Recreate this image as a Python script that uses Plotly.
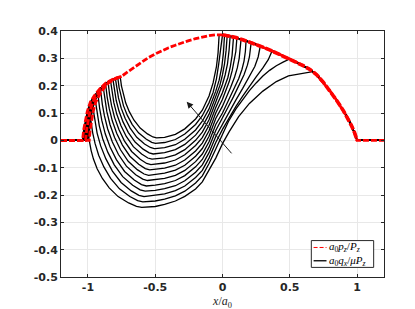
import plotly.graph_objects as go

# ---------------- data ----------------
X_TICKS = [-1, -0.5, 0, 0.5, 1]
X_TICK_TEXT = ["-1", "-0.5", "0", "0.5", "1"]
Y_TICKS = [-0.5, -0.4, -0.3, -0.2, -0.1, 0, 0.1, 0.2, 0.3, 0.4]
Y_TICK_TEXT = ["-0.5", "-0.4", "-0.3", "-0.2", "-0.1", "0", "0.1", "0.2", "0.3", "0.4"]

# normalised pressure a0 pz / Pz (main curve)
RED_X = [-1.2, -1.04, -1.031, -1.0197, -1.005, -0.982, -0.953, -0.9095, -0.866, -0.808,
         -0.75, -0.7, -0.65, -0.6, -0.55, -0.5, -0.45, -0.4, -0.35, -0.3, -0.25, -0.2,
         -0.15, -0.1, -0.05, 0.0, 0.05, 0.1, 0.15, 0.2, 0.25, 0.3, 0.35, 0.4, 0.45, 0.5,
         0.55, 0.6, 0.65, 0.7, 0.75, 0.8, 0.85, 0.9, 0.93, 0.96, 0.98, 0.995, 1.0, 1.2]
RED_Y = [0, 0, 0.04, 0.075, 0.105, 0.14, 0.163, 0.19, 0.21, 0.225,
         0.234, 0.252, 0.27, 0.287, 0.303, 0.316, 0.328, 0.339, 0.348, 0.357, 0.365, 0.372,
         0.378, 0.383, 0.386, 0.386, 0.382, 0.376, 0.368, 0.36, 0.351, 0.341, 0.331, 0.32, 0.309, 0.298,
         0.286, 0.273, 0.259, 0.24, 0.212, 0.18, 0.145, 0.107, 0.082, 0.052, 0.03, 0.01, 0.0, 0.0]
# left edges of the other pressure curves
RED_B_X = [-1.2, -1.017, -1.009, -0.998, -0.985, -0.964, -0.937, -0.897, -0.857, -0.803, -0.75]
RED_B_Y = [0, 0, 0.04, 0.075, 0.105, 0.14, 0.163, 0.19, 0.21, 0.225, 0.234]
RED_C_X = [-1.2, -0.99, -0.9828, -0.9732, -0.9612, -0.942, -0.918, -0.882, -0.846, -0.798, -0.75]
RED_C_Y = [0, 0, 0.04, 0.075, 0.105, 0.14, 0.163, 0.19, 0.21, 0.225, 0.234]

# shear traction a0 qx / (mu Pz), 14 curves (left slip + stick part)
Q0_X = [-1.04, -1.031, -1.0197, -1.005, -0.982, -0.953, -0.9095, -0.866, -0.808, -0.76, -0.7506, -0.7384, -0.7195, -0.6925, -0.6574, -0.6115, -0.5575, -0.517, -0.49, -0.43, -0.35, -0.28, -0.2, -0.15, -0.1, -0.07, -0.045, -0.033, -0.025]
Q0_Y = [0, 0.04, 0.075, 0.105, 0.14, 0.163, 0.19, 0.21, 0.225, 0.232, 0.1986, 0.1696, 0.1372, 0.1049, 0.0737, 0.0447, 0.0235, 0.0123, 0.009, 0.011, 0.022, 0.042, 0.078, 0.11, 0.162, 0.21, 0.27, 0.32, 0.386]
Q1_X = [-1.036, -1.027, -1.016, -1.002, -0.979, -0.95, -0.907, -0.864, -0.807, -0.778, -0.7682, -0.7556, -0.736, -0.708, -0.6716, -0.624, -0.568, -0.526, -0.498, -0.43, -0.35, -0.28, -0.2, -0.15, -0.1, -0.07, -0.045, -0.028, -0.015, -0.005]
Q1_Y = [0, 0.04, 0.075, 0.105, 0.14, 0.163, 0.19, 0.21, 0.225, 0.229, 0.193, 0.1618, 0.127, 0.0922, 0.0586, 0.0274, 0.0046, -0.0074, -0.011, -0.008, 0.003, 0.023, 0.058, 0.09, 0.138, 0.175, 0.225, 0.28, 0.335, 0.386]
Q2_X = [-1.032, -1.0235, -1.0123, -0.998, -0.976, -0.947, -0.905, -0.863, -0.796, -0.7859, -0.7729, -0.7527, -0.7238, -0.6862, -0.637, -0.5793, -0.536, -0.507, -0.5, -0.43, -0.35, -0.28, -0.2, -0.15, -0.1, -0.05, -0.025, -0.005, 0.007, 0.015]
Q2_Y = [0, 0.04, 0.075, 0.105, 0.14, 0.163, 0.19, 0.21, 0.227, 0.1885, 0.155, 0.1178, 0.0805, 0.0445, 0.0111, -0.0133, -0.0261, -0.03, -0.03, -0.027, -0.016, 0.004, 0.038, 0.07, 0.115, 0.18, 0.22, 0.27, 0.32, 0.385]
Q3_X = [-1.028, -1.0197, -1.0085, -0.995, -0.972, -0.945, -0.903, -0.861, -0.814, -0.8035, -0.7901, -0.7691, -0.7392, -0.7004, -0.6495, -0.5897, -0.5449, -0.515, -0.5, -0.43, -0.35, -0.28, -0.2, -0.15, -0.1, -0.05, -0.02, 0.0, 0.015, 0.027, 0.035]
Q3_Y = [0, 0.04, 0.075, 0.105, 0.14, 0.163, 0.19, 0.21, 0.223, 0.182, 0.1466, 0.107, 0.0674, 0.0292, -0.0063, -0.0323, -0.0459, -0.05, -0.049, -0.045, -0.034, -0.015, 0.019, 0.05, 0.095, 0.16, 0.2, 0.24, 0.28, 0.33, 0.384]
Q4_X = [-1.025, -1.017, -1.006, -0.992, -0.97, -0.9425, -0.901, -0.86, -0.832, -0.8212, -0.8074, -0.7858, -0.755, -0.715, -0.6626, -0.601, -0.5548, -0.524, -0.5, -0.43, -0.35, -0.28, -0.2, -0.15, -0.1, -0.05, 0.0, 0.02, 0.037, 0.049, 0.057]
Q4_Y = [0, 0.04, 0.075, 0.105, 0.14, 0.163, 0.19, 0.21, 0.218, 0.175, 0.1376, 0.096, 0.0544, 0.0142, -0.0231, -0.0503, -0.0647, -0.069, -0.068, -0.064, -0.053, -0.034, 0.0, 0.03, 0.075, 0.14, 0.205, 0.24, 0.28, 0.33, 0.382]
Q5_X = [-1.021, -1.013, -1.002, -0.988, -0.967, -0.94, -0.899, -0.85, -0.8389, -0.8246, -0.8023, -0.7705, -0.7292, -0.6751, -0.6115, -0.5638, -0.532, -0.5, -0.43, -0.35, -0.28, -0.2, -0.15, -0.1, -0.05, 0.0, 0.02, 0.04, 0.058, 0.071, 0.082]
Q5_Y = [0, 0.04, 0.075, 0.105, 0.14, 0.163, 0.19, 0.212, 0.1669, 0.1277, 0.0841, 0.0404, -0.0017, -0.0408, -0.0694, -0.0845, -0.089, -0.087, -0.083, -0.072, -0.053, -0.019, 0.01, 0.055, 0.12, 0.175, 0.2, 0.23, 0.27, 0.31, 0.379]
Q6_X = [-1.017, -1.009, -0.998, -0.985, -0.964, -0.937, -0.897, -0.868, -0.8566, -0.8418, -0.819, -0.7863, -0.7437, -0.6882, -0.6228, -0.5737, -0.541, -0.5, -0.43, -0.35, -0.28, -0.2, -0.15, -0.1, -0.05, 0.0, 0.025, 0.05, 0.072, 0.088, 0.099, 0.107]
Q6_Y = [0, 0.04, 0.075, 0.105, 0.14, 0.163, 0.19, 0.204, 0.1572, 0.1166, 0.0714, 0.0262, -0.0175, -0.0581, -0.0877, -0.1033, -0.108, -0.106, -0.102, -0.091, -0.072, -0.039, -0.01, 0.035, 0.1, 0.15, 0.18, 0.215, 0.255, 0.29, 0.325, 0.375]
Q7_X = [-1.013, -1.005, -0.995, -0.981, -0.96, -0.934, -0.886, -0.8742, -0.859, -0.8355, -0.8018, -0.7579, -0.7007, -0.6333, -0.5827, -0.549, -0.5, -0.43, -0.35, -0.28, -0.2, -0.15, -0.1, -0.05, 0.0, 0.03, 0.06, 0.09, 0.11, 0.124, 0.132, 0.138]
Q7_Y = [0, 0.04, 0.075, 0.105, 0.14, 0.163, 0.194, 0.1457, 0.1038, 0.0572, 0.0105, -0.0346, -0.0765, -0.1071, -0.1232, -0.128, -0.125, -0.12, -0.109, -0.091, -0.058, -0.03, 0.015, 0.08, 0.125, 0.158, 0.193, 0.232, 0.265, 0.3, 0.33, 0.37]
Q8_X = [-1.009, -1.001, -0.991, -0.978, -0.957, -0.931, -0.905, -0.8929, -0.8772, -0.853, -0.8183, -0.7731, -0.7142, -0.6448, -0.5927, -0.558, -0.5, -0.43, -0.35, -0.28, -0.2, -0.15, -0.1, -0.05, 0.0, 0.04, 0.08, 0.12, 0.145, 0.16, 0.17, 0.175]
Q8_Y = [0, 0.04, 0.075, 0.105, 0.14, 0.163, 0.181, 0.1318, 0.0892, 0.0416, -0.006, -0.0519, -0.0945, -0.1257, -0.1421, -0.147, -0.144, -0.139, -0.128, -0.11, -0.078, -0.05, -0.005, 0.058, 0.1, 0.14, 0.18, 0.225, 0.26, 0.29, 0.325, 0.364]
Q9_X = [-1.005, -0.997, -0.987, -0.974, -0.954, -0.925, -0.9124, -0.8963, -0.8712, -0.8353, -0.7886, -0.7276, -0.6558, -0.6019, -0.566, -0.5, -0.43, -0.35, -0.28, -0.2, -0.15, -0.1, -0.05, 0.0, 0.04, 0.08, 0.12, 0.16, 0.185, 0.2, 0.213]
Q9_Y = [0, 0.04, 0.075, 0.105, 0.14, 0.165, 0.1152, 0.072, 0.0239, -0.0242, -0.0707, -0.1139, -0.1454, -0.162, -0.167, -0.164, -0.158, -0.147, -0.129, -0.097, -0.07, -0.025, 0.036, 0.08, 0.12, 0.158, 0.198, 0.24, 0.275, 0.305, 0.358]
Q10_X = [-1.002, -0.994, -0.984, -0.972, -0.945, -0.932, -0.9154, -0.8895, -0.8525, -0.8044, -0.7415, -0.6675, -0.612, -0.575, -0.5, -0.43, -0.35, -0.28, -0.2, -0.15, -0.1, -0.05, 0.0, 0.05, 0.1, 0.15, 0.2, 0.24, 0.265, 0.28]
Q10_Y = [0, 0.04, 0.075, 0.105, 0.146, 0.0962, 0.053, 0.0049, -0.0432, -0.0897, -0.1329, -0.1644, -0.181, -0.186, -0.183, -0.177, -0.166, -0.148, -0.117, -0.09, -0.045, 0.014, 0.06, 0.105, 0.148, 0.19, 0.232, 0.27, 0.305, 0.343]
Q11_X = [-0.998, -0.991, -0.981, -0.962, -0.9487, -0.9317, -0.9052, -0.8673, -0.818, -0.7536, -0.6778, -0.6209, -0.583, -0.5, -0.43, -0.35, -0.28, -0.2, -0.15, -0.1, -0.05, 0.0, 0.05, 0.1, 0.15, 0.2, 0.25, 0.3, 0.34, 0.37]
Q11_Y = [0, 0.04, 0.075, 0.117, 0.0686, 0.0266, -0.0203, -0.0671, -0.1123, -0.1543, -0.185, -0.2012, -0.206, -0.202, -0.196, -0.184, -0.167, -0.136, -0.11, -0.065, -0.008, 0.04, 0.083, 0.124, 0.162, 0.198, 0.232, 0.265, 0.295, 0.329]
Q12_X = [-0.994, -0.987, -0.978, -0.9645, -0.9471, -0.9201, -0.8815, -0.8313, -0.7657, -0.6885, -0.6306, -0.592, -0.5, -0.43, -0.35, -0.28, -0.2, -0.15, -0.1, -0.05, 0.0, 0.045, 0.1, 0.15, 0.2, 0.25, 0.3, 0.35, 0.4, 0.45, 0.5]
Q12_Y = [0, 0.04, 0.072, 0.0275, -0.0112, -0.0542, -0.0973, -0.1389, -0.1775, -0.2057, -0.2206, -0.225, -0.222, -0.215, -0.203, -0.186, -0.156, -0.13, -0.085, -0.032, 0.022, 0.07, 0.115, 0.15, 0.182, 0.21, 0.235, 0.256, 0.273, 0.286, 0.298]
Q13_X = [-0.99, -0.9764, -0.9588, -0.9315, -0.8925, -0.8418, -0.7755, -0.6975, -0.639, -0.6, -0.5, -0.43, -0.35, -0.28, -0.2, -0.15, -0.1, -0.05, 0.0, 0.015, 0.05, 0.12, 0.2, 0.3, 0.4, 0.49, 0.567, 0.63, 0.67]
Q13_Y = [0, -0.0367, -0.0686, -0.1041, -0.1396, -0.1739, -0.2058, -0.2291, -0.2413, -0.245, -0.242, -0.234, -0.222, -0.205, -0.178, -0.152, -0.11, -0.065, -0.012, 0.002, 0.032, 0.087, 0.135, 0.18, 0.215, 0.236, 0.243, 0.247, 0.251]

ARROW_TAIL = (0.077, -0.053)
ARROW_HEAD = (-0.266, 0.141)

LABEL_P = "<i>a</i><sub>0</sub><i>p</i><sub><i>z</i></sub>/<i>P</i><sub><i>z</i></sub>"
LABEL_Q = "<i>a</i><sub>0</sub><i>q</i><sub><i>x</i></sub>/<i>μP</i><sub><i>z</i></sub>"
X_TITLE = "<i>x</i>/<i>a</i><sub>0</sub>"

CURVES = [(Q0_X, Q0_Y), (Q1_X, Q1_Y), (Q2_X, Q2_Y), (Q3_X, Q3_Y), (Q4_X, Q4_Y),
          (Q5_X, Q5_Y), (Q6_X, Q6_Y), (Q7_X, Q7_Y), (Q8_X, Q8_Y), (Q9_X, Q9_Y),
          (Q10_X, Q10_Y), (Q11_X, Q11_Y), (Q12_X, Q12_Y), (Q13_X, Q13_Y)]

RED = "#ff0000"
RED_DASH = "6px,2px"

# ---------------- figure ----------------
fig = go.Figure()

for i, (qx, qy) in enumerate(CURVES):
    # full-slip part on the right follows the pressure curve
    tail = [(x, y) for x, y in zip(RED_X, RED_Y) if x > qx[-1]]
    xs = [-1.2] + list(qx) + [t[0] for t in tail]
    ys = [0.0] + list(qy) + [t[1] for t in tail]
    fig.add_trace(go.Scatter(
        x=xs, y=ys, mode="lines",
        line=dict(color="black", width=1.3),
        showlegend=False, hoverinfo="skip"))

for rx, ry in [(RED_C_X, RED_C_Y), (RED_B_X, RED_B_Y)]:
    fig.add_trace(go.Scatter(
        x=rx, y=ry, mode="lines",
        line=dict(color=RED, width=2.8, dash=RED_DASH),
        showlegend=False, hoverinfo="skip"))
fig.add_trace(go.Scatter(
    x=RED_X, y=RED_Y, mode="lines",
    line=dict(color=RED, width=2.8, dash=RED_DASH),
    showlegend=False, hoverinfo="skip"))
# band where the pressure curves of all steps overlap (right half of contact)
right = [(x, y) for x, y in zip(RED_X, RED_Y) if 0.0 <= x <= 1.0]
fig.add_trace(go.Scatter(
    x=[p[0] for p in right], y=[p[1] for p in right], mode="lines",
    line=dict(color=RED, width=3.6, dash="7px,2px"),
    showlegend=False, hoverinfo="skip"))

fig.add_annotation(
    x=ARROW_HEAD[0], y=ARROW_HEAD[1], ax=ARROW_TAIL[0], ay=ARROW_TAIL[1],
    xref="x", yref="y", axref="x", ayref="y", text="",
    showarrow=True, arrowhead=2, arrowsize=1.3, arrowwidth=1, arrowcolor="#1a1a1a")

# ---- compact legend box (paper coordinates) ----
LEG_X0, LEG_X1, LEG_Y0, LEG_Y1 = 0.775, 0.968, 0.039, 0.148
fig.add_shape(type="rect", xref="paper", yref="paper",
              x0=LEG_X0, x1=LEG_X1, y0=LEG_Y0, y1=LEG_Y1,
              line=dict(color="#262626", width=1), fillcolor="white", layer="above")
fig.add_shape(type="line", xref="paper", yref="paper",
              x0=0.782, x1=0.822, y0=0.12, y1=0.12,
              line=dict(color=RED, width=1, dash="4px,2px"), layer="above")
fig.add_shape(type="line", xref="paper", yref="paper",
              x0=0.782, x1=0.822, y0=0.066, y1=0.066,
              line=dict(color="black", width=1.3), layer="above")
leg_font = dict(family="Liberation Serif, serif", size=11, color="#000")
fig.add_annotation(xref="paper", yref="paper", x=0.822, y=0.12, text=LABEL_P,
                   showarrow=False, xanchor="left", yanchor="middle", font=leg_font)
fig.add_annotation(xref="paper", yref="paper", x=0.822, y=0.066, text=LABEL_Q,
                   showarrow=False, xanchor="left", yanchor="middle", font=leg_font)

tick_font = dict(family="DejaVu Sans, sans-serif", size=11,
                 color="#262626", weight="bold")
axis_common = dict(
    showline=True, linecolor="#262626", linewidth=1, mirror="ticks",
    ticks="inside", ticklen=3, tickcolor="#262626", tickwidth=1,
    showgrid=True, gridcolor="#e8e8e8", gridwidth=1, zeroline=False,
    tickfont=tick_font)

fig.update_layout(
    width=415, height=309,
    margin=dict(l=53, r=39, t=23, b=36, pad=0),
    paper_bgcolor="white", plot_bgcolor="white",
    xaxis=dict(range=[-1.2, 1.2], tickvals=X_TICKS, ticktext=X_TICK_TEXT,
               title=dict(text=X_TITLE, standoff=2,
                          font=dict(family="Liberation Serif, serif", size=12, color="#262626")),
               **axis_common),
    yaxis=dict(range=[-0.5, 0.4], tickvals=Y_TICKS, ticktext=Y_TICK_TEXT, **axis_common),
    showlegend=False,
)

fig.write_html("out.html")
